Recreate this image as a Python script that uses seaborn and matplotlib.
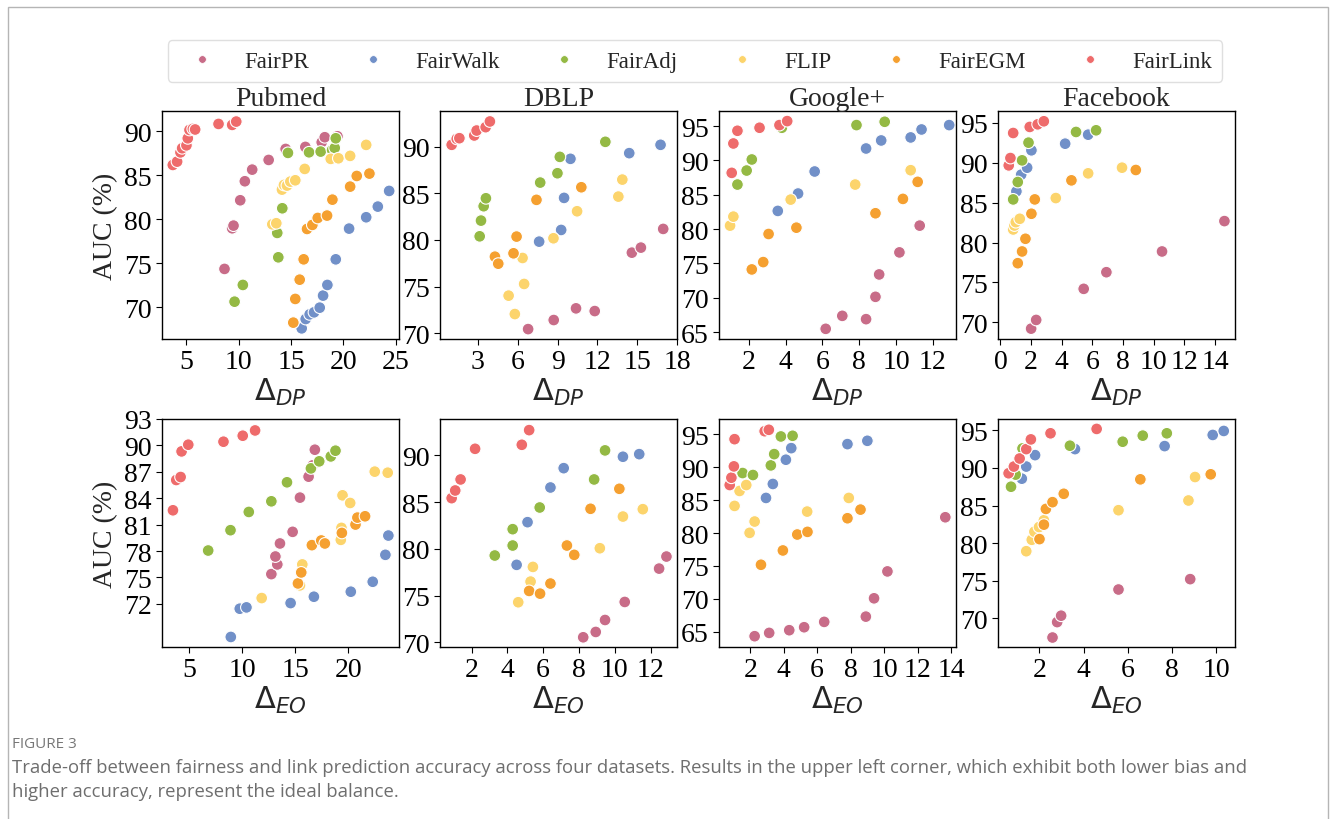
import matplotlib
matplotlib.use("Agg")
import matplotlib.pyplot as plt
from matplotlib.lines import Line2D
from matplotlib.patches import Rectangle
import pandas as pd
import seaborn as sns

# method order / colours
METHODS = ["FairPR", "FairWalk", "FairAdj", "FLIP", "FairEGM", "FairLink"]
COLORS = {
    "FairPR": "#c86c88",
    "FairWalk": "#7190c8",
    "FairAdj": "#94b944",
    "FLIP": "#fcd46c",
    "FairEGM": "#f5a030",
    "FairLink": "#ee6b6b",
}

# ---- Pubmed, Delta_DP ----
PUBMED_DP = {
    "FairPR": ([8.66, 9.39, 9.52, 10.16, 10.6, 11.3, 12.87, 14.49, 16.37, 17.93, 18.22, 19.43],
               [74.36, 78.98, 79.28, 82.16, 84.32, 85.64, 86.74, 87.99, 88.22, 88.75, 89.32, 89.43]),
    "FairWalk": ([16.02, 16.4, 16.78, 17.2, 17.74, 18.06, 18.47, 19.27, 20.54, 22.17, 23.28, 24.36],
                 [67.61, 68.67, 69.2, 69.43, 69.96, 71.33, 72.54, 75.45, 78.94, 80.23, 81.44, 83.22]),
    "FairAdj": ([9.62, 10.41, 13.79, 13.69, 14.17, 14.71, 16.72, 17.83, 18.92, 19.17, 19.27],
                [70.64, 72.54, 75.68, 78.45, 81.25, 87.54, 87.61, 87.69, 87.88, 88.1, 89.2]),
    "FLIP": ([13.22, 13.6, 14.14, 14.33, 14.62, 14.94, 15.41, 16.31, 18.79, 19.52, 20.64, 22.17],
             [79.43, 79.55, 83.37, 83.9, 83.83, 84.28, 84.43, 85.72, 86.86, 86.93, 87.2, 88.45]),
    "FairEGM": ([15.22, 15.41, 15.83, 16.21, 16.53, 17.04, 17.55, 18.44, 18.95, 20.64, 21.27, 22.48],
                [68.26, 70.95, 73.14, 75.45, 78.9, 79.36, 80.15, 80.42, 82.23, 83.71, 84.92, 85.19]),
    "FairLink": ([3.73, 4.14, 4.46, 4.62, 5.03, 5.16, 5.32, 5.64, 5.86, 8.09, 9.39, 9.78],
                 [86.17, 86.55, 87.6, 88.07, 88.4, 89.2, 90.15, 90.27, 90.2, 90.83, 90.72, 91.1]),
}

# ---- DBLP, Delta_DP ----
DBLP_DP = {
    "FairPR": ([6.78, 8.71, 10.39, 11.8, 14.6, 15.28, 16.96],
               [70.46, 71.43, 72.68, 72.39, 78.64, 79.18, 81.18]),
    "FairWalk": ([7.61, 9.27, 9.49, 9.97, 14.4, 16.76],
                 [79.82, 81.07, 84.5, 88.68, 89.29, 90.18]),
    "FairAdj": ([3.13, 3.23, 3.43, 3.6, 7.69, 8.99, 9.17, 12.6],
                [80.39, 82.07, 83.61, 84.46, 86.14, 87.14, 88.89, 90.5]),
    "FLIP": ([5.31, 5.78, 6.36, 6.48, 8.69, 10.47, 13.58, 13.88],
             [74.04, 72.07, 78.07, 75.29, 80.18, 83.07, 84.64, 86.46]),
    "FairEGM": ([4.28, 4.53, 5.68, 5.91, 7.41, 10.79],
                [78.21, 77.46, 78.57, 80.36, 84.29, 85.64]),
    "FairLink": ([1.02, 1.4, 1.6, 2.72, 2.9, 3.58, 3.9],
                 [90.18, 90.82, 90.89, 91.18, 91.71, 92.07, 92.68]),
}

# ---- Google+, Delta_DP ----
GPLUS_DP = {
    "FairPR": ([6.18, 7.08, 8.37, 8.88, 9.08, 10.18, 11.28],
               [65.48, 67.37, 66.89, 70.14, 73.4, 76.61, 80.51]),
    "FairWalk": ([3.58, 4.68, 5.58, 8.37, 9.19, 10.79, 11.38, 12.88],
                 [82.65, 85.18, 88.39, 91.74, 92.91, 93.35, 94.51, 95.15]),
    "FairAdj": ([1.39, 1.89, 2.17, 3.8, 7.85, 9.38],
                [86.49, 88.53, 90.14, 94.76, 95.15, 95.63]),
    "FLIP": ([0.99, 1.17, 4.28, 7.78, 10.79],
             [80.51, 81.82, 84.3, 86.49, 88.58]),
    "FairEGM": ([2.17, 2.79, 3.08, 4.59, 8.88, 10.37, 11.17],
                [74.13, 75.2, 79.29, 80.21, 82.31, 84.4, 86.88]),
    "FairLink": ([1.08, 1.17, 1.39, 2.59, 3.67, 4.09],
                 [88.19, 92.47, 94.32, 94.76, 95.15, 95.73]),
}

# ---- Facebook, Delta_DP ----
FACEBOOK_DP = {
    "FairPR": ([2.0, 2.33, 5.43, 6.91, 10.54, 14.61],
               [69.2, 70.29, 74.19, 76.28, 78.88, 82.69]),
    "FairWalk": ([1.04, 1.35, 1.74, 2.02, 4.22, 5.72],
                 [86.42, 88.51, 89.39, 91.57, 92.4, 93.53]),
    "FairAdj": ([0.83, 1.13, 1.41, 1.83, 4.93, 6.24],
                [85.41, 87.59, 90.31, 92.53, 93.87, 94.08]),
    "FLIP": ([0.83, 0.91, 1.0, 1.26, 3.61, 5.72, 7.93],
             [81.64, 82.14, 82.56, 82.98, 85.58, 88.68, 89.39]),
    "FairEGM": ([1.13, 1.41, 1.63, 2.02, 2.24, 4.63, 8.83],
                [77.41, 78.88, 80.47, 83.61, 85.41, 87.8, 89.1]),
    "FairLink": ([0.54, 0.65, 0.83, 1.91, 2.43, 2.83],
                 [89.68, 90.6, 93.74, 94.5, 94.83, 95.21]),
}

# ---- Pubmed, Delta_EO ----
PUBMED_EO = {
    "FairPR": ([12.75, 13.31, 13.13, 13.56, 14.75, 15.44, 16.25, 16.63, 16.84],
               [75.38, 76.48, 77.38, 78.86, 80.18, 84.07, 86.45, 87.73, 89.51]),
    "FairWalk": ([8.94, 9.78, 10.41, 14.56, 16.75, 20.22, 22.28, 23.47, 23.75],
                 [68.24, 71.45, 71.6, 72.09, 72.81, 73.38, 74.51, 77.57, 79.76]),
    "FairAdj": ([6.81, 8.91, 10.63, 12.75, 14.22, 16.47, 17.25, 18.34, 18.78],
                [78.06, 80.37, 82.44, 83.65, 85.81, 87.39, 88.19, 88.75, 89.4]),
    "FLIP": ([11.84, 15.44, 15.66, 19.28, 19.34, 19.44, 20.16, 22.47, 23.69],
             [72.66, 74.1, 76.48, 79.27, 80.63, 84.33, 83.46, 87.02, 86.9]),
    "FairEGM": ([15.25, 15.56, 16.56, 17.44, 17.78, 19.38, 20.66, 20.84, 21.56],
                [74.32, 75.57, 78.67, 79.2, 78.86, 80.06, 81.01, 81.8, 81.95]),
    "FairLink": ([3.5, 3.81, 4.22, 4.31, 4.94, 8.25, 10.06, 11.22],
                 [82.63, 86.07, 86.41, 89.32, 90.08, 90.42, 91.1, 91.7]),
}

# ---- DBLP, Delta_EO ----
DBLP_EO = {
    "FairPR": ([8.24, 8.94, 9.46, 10.56, 12.48, 12.89],
               [70.54, 71.11, 72.39, 74.32, 77.89, 79.18]),
    "FairWalk": ([4.52, 5.13, 6.41, 7.15, 10.46, 11.37],
                 [78.29, 82.86, 86.57, 88.64, 89.86, 90.14]),
    "FairAdj": ([3.3, 4.3, 4.3, 5.81, 8.85, 9.46],
                [79.29, 80.36, 82.11, 84.43, 87.43, 90.54]),
    "FLIP": ([4.61, 5.3, 5.43, 9.17, 10.46, 11.57],
             [74.29, 76.5, 78.07, 80.07, 83.46, 84.25]),
    "FairEGM": ([5.22, 5.83, 6.41, 7.33, 7.74, 8.65, 10.26],
                [75.5, 75.21, 76.29, 80.36, 79.36, 84.29, 86.43]),
    "FairLink": ([0.89, 1.09, 1.39, 2.2, 4.81, 5.22],
                 [85.43, 86.25, 87.43, 90.71, 91.14, 92.71]),
}

# ---- Google+, Delta_EO ----
GPLUS_EO = {
    "FairPR": ([2.26, 3.13, 4.33, 5.22, 6.42, 8.91, 9.4, 10.2, 13.66],
               [64.34, 64.84, 65.25, 65.7, 66.51, 67.31, 70.09, 74.17, 82.39]),
    "FairWalk": ([2.94, 3.35, 4.13, 4.45, 7.81, 9.0],
                 [85.32, 87.44, 91.12, 92.88, 93.49, 93.99]),
    "FairAdj": ([1.54, 2.16, 3.23, 3.43, 3.83, 4.53],
                [89.1, 88.8, 90.26, 91.97, 94.65, 94.75]),
    "FLIP": ([1.06, 1.36, 1.76, 1.96, 2.26, 5.4, 7.89],
             [84.11, 86.38, 87.28, 80.02, 81.74, 83.25, 85.32]),
    "FairEGM": ([2.64, 3.95, 4.81, 5.42, 7.81, 8.59],
                [75.18, 77.35, 79.77, 80.17, 82.24, 83.55]),
    "FairLink": ([0.77, 0.87, 1.02, 1.06, 2.86, 3.11],
                 [87.28, 88.39, 90.11, 94.24, 95.45, 95.66]),
}

# ---- Facebook, Delta_EO ----
FACEBOOK_EO = {
    "FairPR": ([2.59, 2.8, 2.98, 5.58, 8.83],
               [67.46, 69.51, 70.36, 73.84, 75.22]),
    "FairWalk": ([1.2, 1.4, 1.8, 3.61, 7.67, 9.85, 10.35],
                 [88.57, 90.18, 91.7, 92.5, 92.9, 94.38, 94.91]),
    "FairAdj": ([0.71, 0.92, 1.23, 3.38, 5.77, 6.68, 7.77],
                [87.5, 89.11, 92.59, 92.95, 93.48, 94.29, 94.6]),
    "FLIP": ([1.4, 1.65, 1.77, 1.98, 2.2, 5.58, 8.75, 9.05],
             [78.93, 80.45, 81.52, 82.14, 83.04, 84.38, 85.67, 88.79]),
    "FairEGM": ([2.0, 2.2, 2.29, 2.59, 3.1, 6.57, 9.76],
                [80.54, 82.46, 84.55, 85.45, 86.56, 88.48, 89.15]),
    "FairLink": ([0.6, 0.84, 1.1, 1.4, 1.61, 2.5, 4.59],
                 [89.29, 90.18, 91.25, 92.5, 93.79, 94.6, 95.18]),
}

TITLES = ["Pubmed", "DBLP", "Google+", "Facebook"]

# panel settings: (data, xlim, xticks, ylim, yticks)
PANELS = [
    [(PUBMED_DP, (2.7, 25.3), range(5, 26, 5), (66.4, 92.3), range(70, 91, 5)),
     (DBLP_DP, (0.14, 18.0), range(3, 19, 3), (69.4, 93.8), range(70, 91, 5)),
     (GPLUS_DP, (0.39, 13.25), range(2, 13, 2), (64.0, 97.2), range(65, 96, 5)),
     (FACEBOOK_DP, (-0.16, 15.3), range(0, 15, 2), (67.9, 96.5), range(70, 96, 5))],
    [(PUBMED_EO, (2.47, 24.75), range(5, 21, 5), (67.1, 93.0), range(72, 94, 3)),
     (DBLP_EO, (0.24, 13.48), range(2, 13, 2), (69.5, 93.9), range(70, 91, 5)),
     (GPLUS_EO, (0.13, 14.3), range(2, 15, 2), (62.7, 97.3), range(65, 96, 5)),
     (FACEBOOK_EO, (0.12, 10.86), range(2, 11, 2), (66.2, 96.5), range(70, 96, 5))],
]
XLABELS = [r"$\Delta_{DP}$", r"$\Delta_{EO}$"]


def to_frame(panel):
    rows = []
    for m in METHODS:
        xs, ys = panel[m]
        for x, y in zip(xs, ys):
            rows.append({"delta": x, "auc": y, "method": m})
    return pd.DataFrame(rows)


sns.set_style("ticks")
plt.rcParams['font.family'] = ['Liberation Serif', 'DejaVu Serif']
plt.rcParams['mathtext.fontset'] = 'dejavusans'
plt.rcParams['axes.linewidth'] = 1.0
plt.rcParams['xtick.major.size'] = 4
plt.rcParams['ytick.major.size'] = 4

W, H = 1336, 820
fig = plt.figure(figsize=(W / 100, H / 100), dpi=100)

col_left = [162, 440, 719, 998]
ax_w = 237
row_top = [112, 420]
ax_h = 228

for r in range(2):
    for c in range(4):
        data, xlim, xticks, ylim, yticks = PANELS[r][c]
        left = col_left[c] / W
        bottom = 1 - (row_top[r] + ax_h) / H
        ax = fig.add_axes([left, bottom, ax_w / W, ax_h / H])
        df = to_frame(data)
        sns.scatterplot(data=df, x="delta", y="auc", hue="method",
                        hue_order=METHODS, palette=COLORS, s=72,
                        edgecolor="white", linewidth=0.8, legend=False, ax=ax)
        ax.set_xlim(*xlim)
        ax.set_ylim(*ylim)
        ax.set_xticks(list(xticks))
        ax.set_yticks(list(yticks))
        ax.tick_params(labelsize=20, colors="black")
        for s in ax.spines.values():
            s.set_color("black")
        ax.set_xlabel(XLABELS[r], fontsize=22, labelpad=1)
        if c == 0:
            ax.set_ylabel("AUC (%)", fontsize=20, labelpad=4)
        else:
            ax.set_ylabel("")
        if r == 0:
            ax.set_title(TITLES[c], fontsize=20, pad=4)

# shared legend
handles = [Line2D([], [], marker="o", linestyle="", markersize=5.5,
                  markerfacecolor=COLORS[m], markeredgecolor="white",
                  markeredgewidth=0.5, label=m) for m in METHODS]
leg = fig.legend(handles=handles, loc="center", ncol=6,
                 bbox_to_anchor=(695 / W, 1 - 62 / H), fontsize=16.5,
                 frameon=True, handlelength=2.1, handletextpad=0.8,
                 columnspacing=1.75, borderpad=0.45, fancybox=True)
leg.get_frame().set_edgecolor("#d8d8d8")
leg.get_frame().set_linewidth(1.0)

# caption and page frame
fig.text(12 / W, 1 - 745 / H, "FIGURE 3", fontsize=11, color="#777777",
         family=["Open Sans", "DejaVu Sans"], va="center", ha="left")
fig.text(12 / W, 1 - 768 / H,
         "Trade-off between fairness and link prediction accuracy across four datasets. "
         "Results in the upper left corner, which exhibit both lower bias and",
         fontsize=13.3, color="#6e6e6e", family=["Open Sans", "DejaVu Sans"],
         va="center", ha="left")
fig.text(12 / W, 1 - 792 / H, "higher accuracy, represent the ideal balance.",
         fontsize=13.3, color="#6e6e6e", family=["Open Sans", "DejaVu Sans"],
         va="center", ha="left")

fig.add_artist(Rectangle((8 / W, -0.05), 1320 / W, 1.05 - 8 / H,
                         transform=fig.transFigure, fill=False,
                         edgecolor="#b5b5b5", linewidth=1.0))

fig.savefig("out.png", dpi=100, facecolor="white")
